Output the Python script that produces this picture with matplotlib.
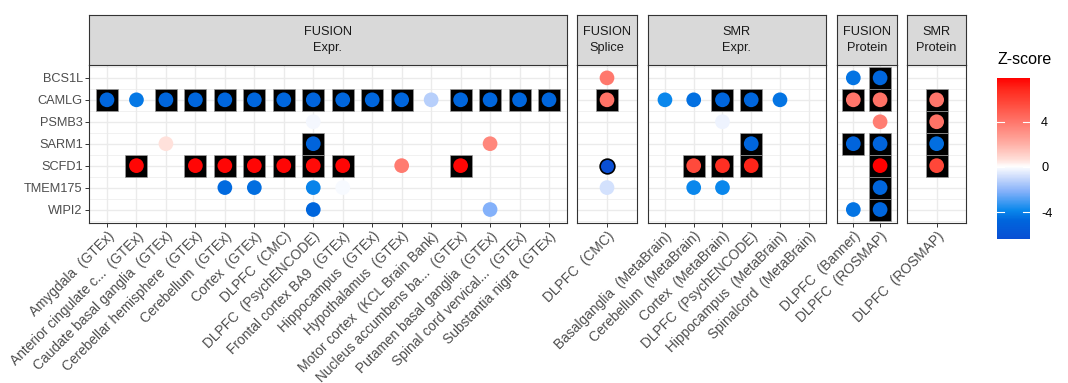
import numpy as np
import matplotlib
matplotlib.use("Agg")
import matplotlib.pyplot as plt
from matplotlib.colors import LinearSegmentedColormap, Normalize

n = np.nan

GENES = ["BCS1L", "CAMLG", "PSMB3", "SARM1", "SCFD1", "TMEM175", "WIPI2"]

# ---- FUSION expression ----
fusion_expr_tissues = [
    "Amygdala  (GTEx)", "Anterior cingulate c...  (GTEx)", "Caudate basal ganglia  (GTEx)",
    "Cerebellar hemisphere  (GTEx)", "Cerebellum  (GTEx)", "Cortex  (GTEx)", "DLPFC  (CMC)",
    "DLPFC  (PsychENCODE)", "Frontal cortex BA9  (GTEx)", "Hippocampus  (GTEx)",
    "Hypothalamus  (GTEx)", "Motor cortex  (KCL Brain Bank)", "Nucleus accumbens ba...  (GTEx)",
    "Putamen basal ganglia  (GTEx)", "Spinal cord vervical...  (GTEx)", "Substantia nigra  (GTEx)",
]
fusion_expr_z = [
    [n] * 16,
    [-4.8, -4.3, -4.8, -4.8, -4.8, -4.8, -4.8, -4.9, -4.8, -4.8, -4.8, -1.3, -4.8, -4.8, -4.8, -4.8],
    [n, n, n, n, n, n, n, -0.2, n, n, n, n, n, n, n, n],
    [n, n, 0.6, n, n, n, n, -4.9, n, n, n, n, n, 3.4, n, n],
    [n, 7.7, n, 7.7, 7.7, 7.7, 7.7, 7.6, 7.7, n, 3.8, n, 7.7, n, n, n],
    [n, n, n, n, -4.7, -4.6, n, -4.0, -0.15, n, n, n, n, n, n, n],
    [n, n, n, n, n, n, n, -4.8, n, n, n, n, n, -2.2, n, n],
]
fusion_expr_sig = [
    [0] * 16,
    [1, 0, 1, 1, 1, 1, 1, 1, 1, 1, 1, 0, 1, 1, 1, 1],
    [0] * 16,
    [0, 0, 0, 0, 0, 0, 0, 1, 0, 0, 0, 0, 0, 0, 0, 0],
    [0, 1, 0, 1, 1, 1, 1, 1, 1, 0, 0, 0, 1, 0, 0, 0],
    [0] * 16,
    [0] * 16,
]

# ---- FUSION splicing ----
fusion_splice_tissues = ["DLPFC  (CMC)"]
fusion_splice_z = [[3.9], [4.1], [n], [n], [-6.4], [-0.8], [n]]
fusion_splice_sig = [[0], [1], [0], [0], [2], [0], [0]]

# ---- SMR expression ----
smr_expr_tissues = [
    "Basalganglia  (MetaBrain)", "Cerebellum  (MetaBrain)", "Cortex  (MetaBrain)",
    "DLPFC  (PsychENCODE)", "Hippocampus  (MetaBrain)", "Spinalcord  (MetaBrain)",
]
smr_expr_z = [
    [n, n, n, n, n, n],
    [-3.9, -4.5, -4.8, -4.8, -4.4, n],
    [n, n, -0.3, n, n, n],
    [n, n, n, -4.8, n, n],
    [n, 5.6, 6.6, 6.9, n, n],
    [n, -3.9, -3.9, n, n, n],
    [n, n, n, n, n, n],
]
smr_expr_sig = [
    [0, 0, 0, 0, 0, 0],
    [0, 0, 1, 1, 0, 0],
    [0, 0, 0, 0, 0, 0],
    [0, 0, 0, 1, 0, 0],
    [0, 1, 1, 1, 0, 0],
    [0, 0, 0, 0, 0, 0],
    [0, 0, 0, 0, 0, 0],
]

# ---- FUSION protein ----
fusion_prot_tissues = ["DLPFC  (Banner)", "DLPFC  (ROSMAP)"]
fusion_prot_z = [[-4.4, -4.8], [4.0, 4.1], [n, 3.7], [-4.9, -4.9], [n, 7.9], [n, -4.8], [-4.4, -4.8]]
fusion_prot_sig = [[0, 1], [1, 1], [0, 0], [1, 1], [0, 1], [0, 1], [0, 1]]

# ---- SMR protein ----
smr_prot_tissues = ["DLPFC  (ROSMAP)"]
smr_prot_z = [[n], [4.0], [4.1], [-4.6], [5.7], [n], [n]]
smr_prot_sig = [[0], [1], [1], [1], [1], [0], [0]]

STRIPS = ["FUSION\nExpr.", "FUSION\nSplice", "SMR\nExpr.", "FUSION\nProtein", "SMR\nProtein"]

# ---------------------------------------------------------------------------
plt.rcParams["font.family"] = ["Liberation Sans", "DejaVu Sans"]

W, H = 1068, 383
fig = plt.figure(figsize=(W / 100, H / 100), dpi=100)


def rect(x0, y0, x1, y1):
    return [x0 / W, 1 - y1 / H, (x1 - x0) / W, (y1 - y0) / H]


all_z = np.concatenate([np.ravel(np.array(z, float)) for z in
                        (fusion_expr_z, fusion_splice_z, smr_expr_z, fusion_prot_z, smr_prot_z)])
zmin, zmax = np.nanmin(all_z), np.nanmax(all_z)

nodes = [
    (-6.45, "#0A4FD4"), (-4.8, "#0066DD"), (-3.9, "#0A88EC"), (-2.2, "#86B2FA"),
    (-1.0, "#CADAFC"), (0.0, "#FFFFFF"), (0.6, "#FFE0DA"), (2.0, "#FFB0A6"),
    (3.8, "#FF7B70"), (5.6, "#FF4A3C"), (6.8, "#FF2A1E"), (7.9, "#FF0000"),
]
lo, hi = nodes[0][0], nodes[-1][0]
cmap = LinearSegmentedColormap.from_list(
    "zscore", [((v - lo) / (hi - lo), c) for v, c in nodes])
norm = Normalize(vmin=lo, vmax=hi)

GRID = "#EBEBEB"
DARK = "#333333"
TXT = "#4D4D4D"
FS = 9.2
FSX = 9.9

panels = [
    (fusion_expr_tissues, fusion_expr_z, fusion_expr_sig, 89.3, 566.7, (-0.6, 15.6)),
    (fusion_splice_tissues, fusion_splice_z, fusion_splice_sig, 577.3, 636.7, (-1.0, 1.0)),
    (smr_expr_tissues, smr_expr_z, smr_expr_sig, 647.7, 826.0, (-0.6, 5.6)),
    (fusion_prot_tissues, fusion_prot_z, fusion_prot_sig, 836.7, 896.7, (-0.62, 1.62)),
    (smr_prot_tissues, smr_prot_z, smr_prot_sig, 907.3, 966.0, (-1.0, 1.0)),
]

PY0, PY1 = 64.7, 222.7
SY0 = 15.0

for i, (tissues, z, sig, x0, x1, xl) in enumerate(panels):
    ax = fig.add_axes(rect(x0, PY0, x1, PY1))
    ax.set_xlim(*xl)
    ax.set_ylim(len(GENES) - 1 + 0.6, -0.6)
    ax.set_facecolor("white")
    nt = len(tissues)
    # grid
    for k in range(len(GENES)):
        ax.axhline(k, color=GRID, lw=1.0, zorder=0)
    for k in range(len(GENES) + 1):
        ax.axhline(k - 0.5, color=GRID, lw=0.5, zorder=0)
    for k in range(nt):
        ax.axvline(k, color=GRID, lw=1.0, zorder=0)
    za = np.array(z, float)
    sa = np.array(sig)
    gi, ti = np.nonzero(sa == 1)
    ax.plot(ti, gi, ls="none", marker="s", ms=15.6, mfc="black", mec="#9A9A9A",
            mew=0.5, zorder=2)
    gi, ti = np.nonzero(~np.isnan(za))
    vals = za[gi, ti]
    outl = sa[gi, ti] == 2
    ax.scatter(ti[~outl], gi[~outl], c=vals[~outl], cmap=cmap, norm=norm, s=112,
               linewidths=0, zorder=3)
    if outl.any():
        ax.scatter(ti[outl], gi[outl], c=vals[outl], cmap=cmap, norm=norm, s=112,
                   edgecolors="black", linewidths=1.2, zorder=3)
    ax.set_xticks(range(nt))
    ax.set_xticklabels(tissues, rotation=45, ha="right", va="top",
                       rotation_mode="anchor", fontsize=FSX, color=TXT)
    ax.tick_params(axis="both", length=2.7, width=0.7, color=DARK, pad=2)
    ax.set_yticks(range(len(GENES)))
    if i == 0:
        ax.set_yticklabels(GENES, fontsize=FS, color=TXT)
    else:
        ax.tick_params(axis="y", left=False, labelleft=False)
    for s in ax.spines.values():
        s.set_color(DARK)
        s.set_linewidth(0.8)
        s.set_zorder(4)

    sax = fig.add_axes(rect(x0, SY0, x1, PY0))
    sax.set_facecolor("#D9D9D9")
    sax.set_xticks([])
    sax.set_yticks([])
    for s in sax.spines.values():
        s.set_color(DARK)
        s.set_linewidth(0.8)
    sax.text(0.5, 0.5, STRIPS[i], ha="center", va="center", transform=sax.transAxes,
             fontsize=FS, color="#1A1A1A", linespacing=1.5)

# colour bar
cax = fig.add_axes(rect(997.3, 77.7, 1030.0, 239.3))
grad = np.linspace(zmin, zmax, 300).reshape(-1, 1)
cax.imshow(grad, cmap=cmap, norm=norm, aspect="auto", origin="lower",
           extent=[0, 1, zmin, zmax])
cax.set_xlim(0, 1)
cax.set_ylim(zmin, zmax)
cax.set_xticks([])
for s in cax.spines.values():
    s.set_visible(False)
cb_ticks = [-4, 0, 4]
for t in cb_ticks:
    cax.plot([0, 0.2], [t, t], color="white", lw=0.8)
    cax.plot([0.8, 1.0], [t, t], color="white", lw=0.8)
cax.yaxis.tick_right()
cax.set_yticks(cb_ticks)
cax.set_yticklabels([str(t) for t in cb_ticks], fontsize=FS, color="black")
cax.tick_params(axis="y", length=0, pad=8)
fig.text(997 / W, 1 - 60 / H, "Z-score", ha="left", va="center", fontsize=11.5,
         color="black")

fig.savefig("out.png", dpi=100)
